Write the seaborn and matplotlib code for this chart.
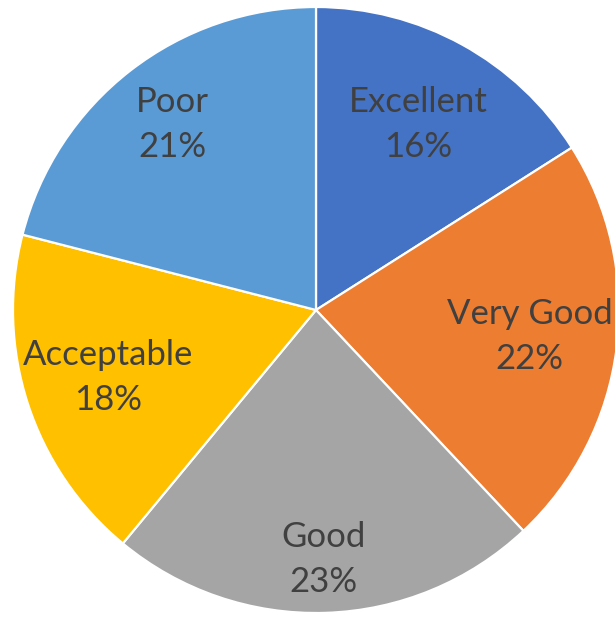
import matplotlib
matplotlib.use("Agg")
import matplotlib.pyplot as plt
import numpy as np
import seaborn as sns

# Rating shares (percent)
categories = ["Excellent", "Very Good", "Good", "Acceptable", "Poor"]
shares = [16, 22, 23, 18, 21]
colors = ["#4472C4", "#ED7D31", "#A5A5A5", "#FFC000", "#5B9BD5"]
# radial placement of each label, as a fraction of the radius
label_radius = [0.70, 0.71, 0.825, 0.72, 0.775]

sns.set_theme(style="white")
plt.rcParams["font.family"] = ["Lato", "DejaVu Sans"]

W, H, DPI = 615, 619, 100
fig = plt.figure(figsize=(W / DPI, H / DPI), dpi=DPI)
ax = fig.add_axes([0, 0, 1, 1])

cx, cy, R = 316, 310, 303
wedges, _ = ax.pie(
    shares,
    colors=colors,
    startangle=90,
    counterclock=False,
    radius=1.0,
    wedgeprops=dict(edgecolor="white", linewidth=1.6),
)

for w, name, val, r in zip(wedges, categories, shares, label_radius):
    mid = np.deg2rad((w.theta1 + w.theta2) / 2)
    ax.text(r * np.cos(mid), r * np.sin(mid), f"{name}\n{val}%",
            ha="center", va="center", fontsize=25, color="#404040",
            linespacing=1.5)

ax.set_xlim(-cx / R, (W - cx) / R)
ax.set_ylim((cy - H) / R, cy / R)
ax.set_aspect("auto")
ax.axis("off")

fig.savefig("out.png", dpi=DPI, facecolor="white")
